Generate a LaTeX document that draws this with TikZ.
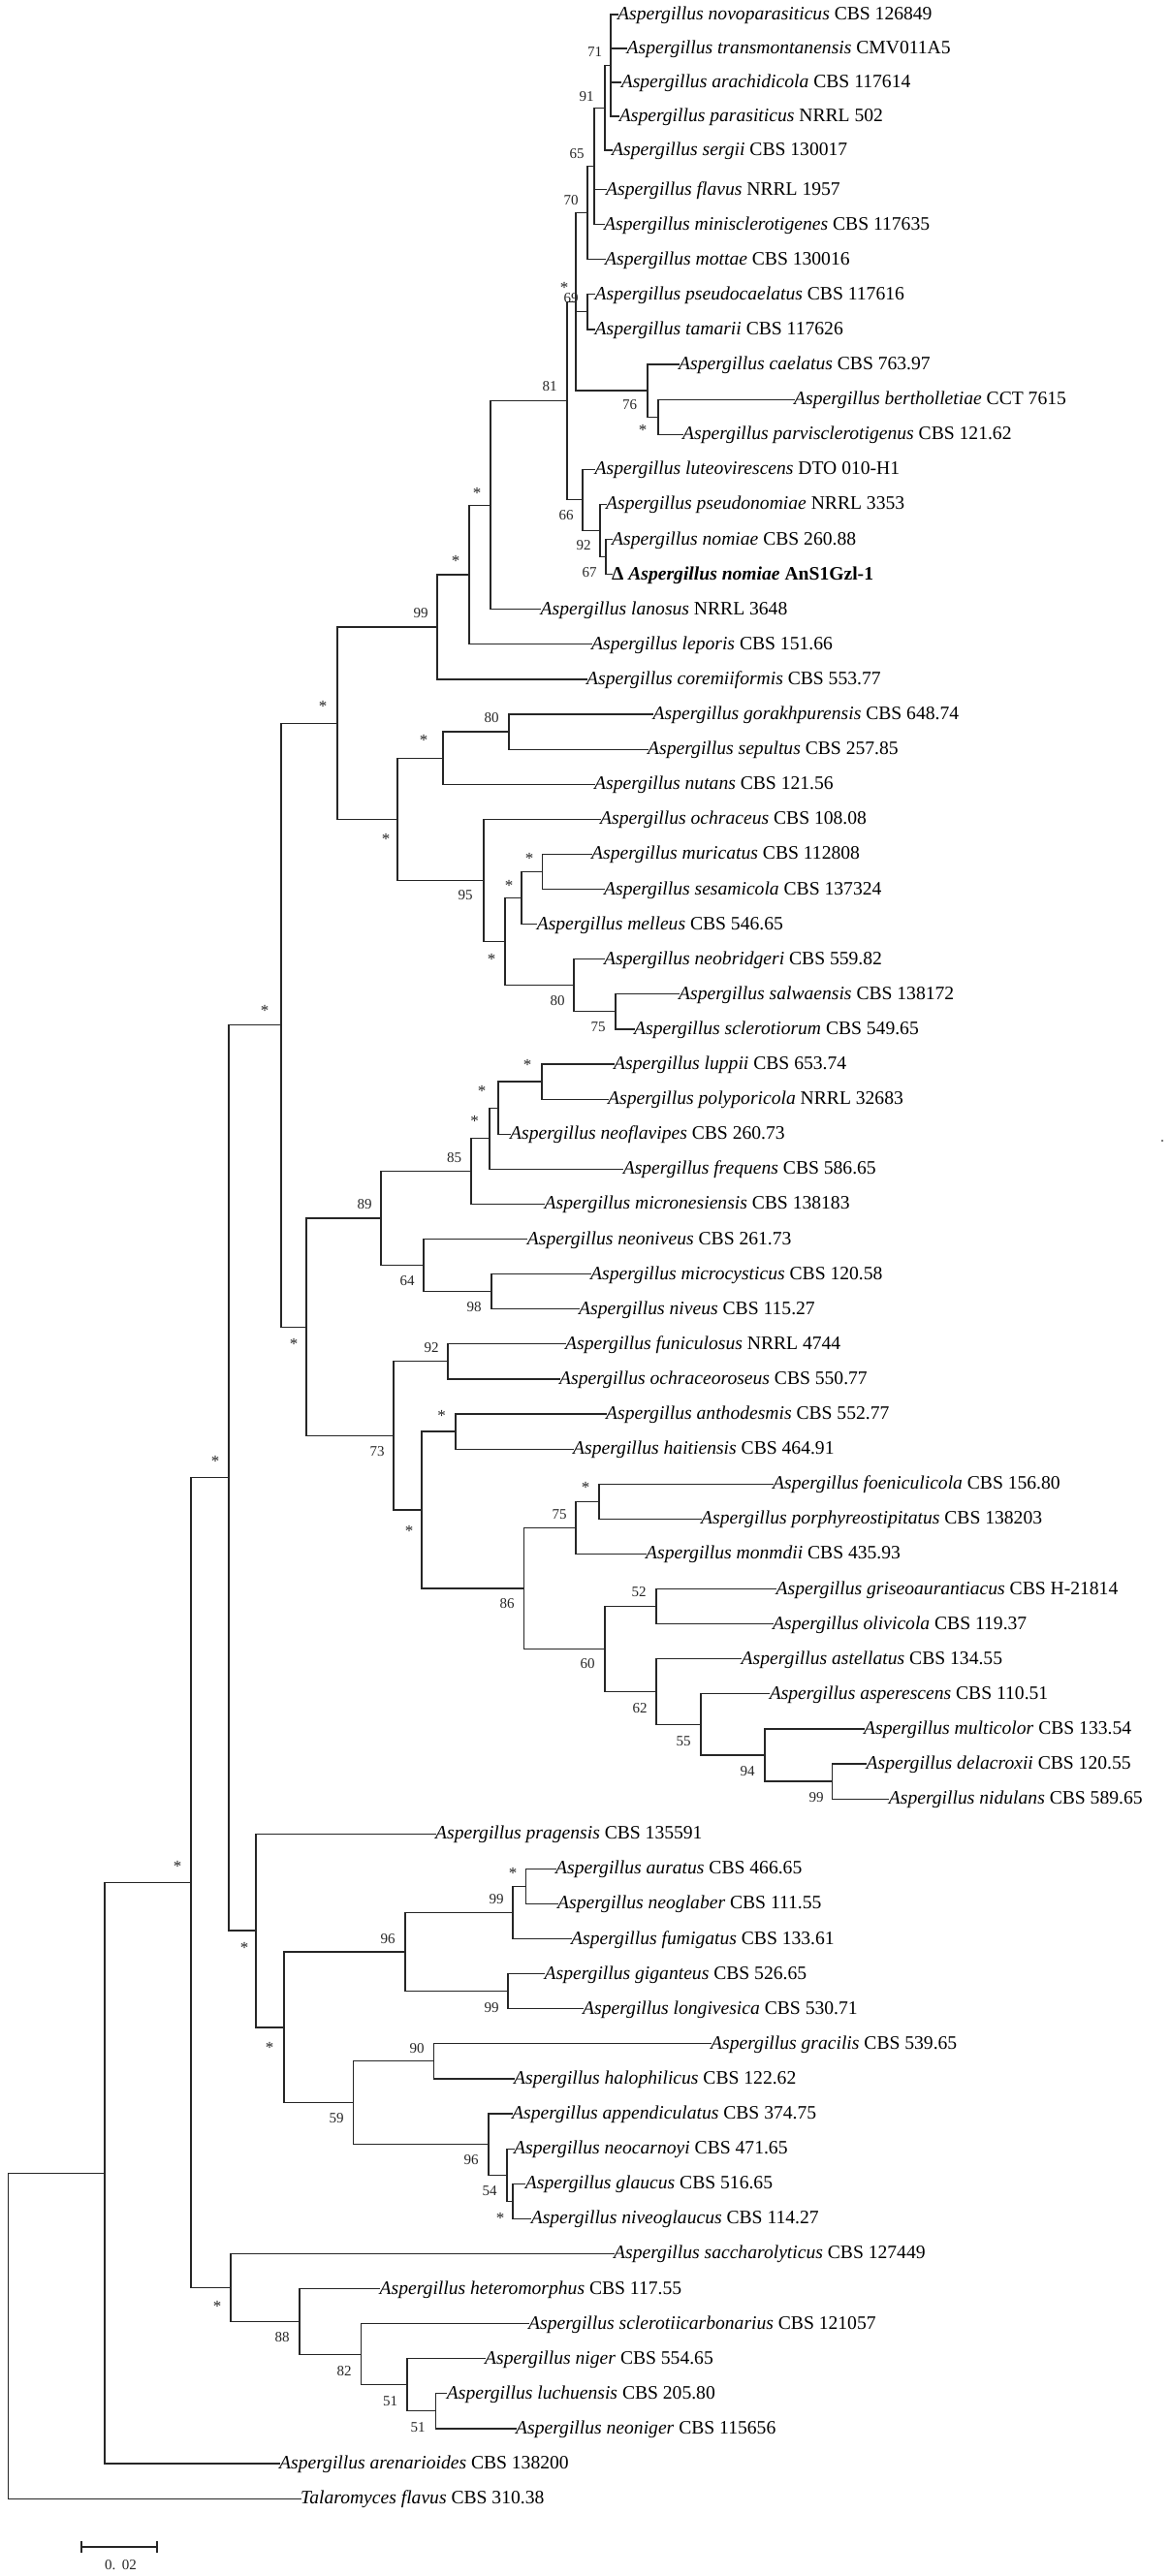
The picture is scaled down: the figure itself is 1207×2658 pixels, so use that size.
\documentclass[tikz,border=0pt]{standalone}
\usepackage{fontspec}
\setmainfont{Liberation Serif}
\usetikzlibrary{calc}
\newcommand\labfont{\fontsize{19.6bp}{22bp}\selectfont}
\newcommand\bsfont{\fontsize{15bp}{17bp}\selectfont}
\newcommand\Leaf[5]{\coordinate (t#1) at (#2,#3); \node[leaf] (n#1) at (t#1) {\textit{#4} #5};}
\newcommand\Inode[4]{\path ($(#3)!0.5!(#4)$) coordinate (m#1); \coordinate (#1) at (#2,0 |- m#1);}
\newcommand\Kids[2]{\foreach \kid in {#2}{\draw[br] (#1) |- (\kid);}}
\newcommand\BS[4]{\node[bs] (b#1) at (#2,#3) {#4};}
\newcommand\ST[3]{\node[bs,star] (b#1) at (#2,#3) {*};}
\begin{document}
\begin{tikzpicture}[x=1bp,y=-1bp,
  br/.style={line width=1.2bp, draw=black!85, line cap=rect},
  leaf/.style={anchor=base west, inner sep=0pt, yshift=-5.5bp, font=\labfont},
  bs/.style={inner sep=0pt, font=\bsfont, text=black!85},
  star/.style={font=\fontsize{17bp}{18bp}\selectfont, yshift=-2bp}]
\useasboundingbox (0,0) rectangle (1207,2658);
% leaves
\Leaf{1}{637}{15}{Aspergillus novoparasiticus}{CBS 126849}
\Leaf{2}{646.5}{50}{Aspergillus transmontanensis}{CMV011A5}
\Leaf{3}{640.6}{85}{Aspergillus arachidicola}{CBS 117614}
\Leaf{4}{638.7}{120}{Aspergillus parasiticus}{NRRL 502}
\Leaf{5}{631}{155}{Aspergillus sergii}{CBS 130017}
\Leaf{6}{625}{195.5}{Aspergillus flavus}{NRRL 1957}
\Leaf{7}{623}{231.6}{Aspergillus minisclerotigenes}{CBS 117635}
\Leaf{8}{624}{267.7}{Aspergillus mottae}{CBS 130016}
\Leaf{9}{613.5}{303.8}{Aspergillus pseudocaelatus}{CBS 117616}
\Leaf{10}{613.5}{339.9}{Aspergillus tamarii}{CBS 117626}
\Leaf{11}{700}{376}{Aspergillus caelatus}{CBS 763.97}
\Leaf{12}{819}{412.1}{Aspergillus bertholletiae}{CCT 7615}
\Leaf{13}{704}{448.2}{Aspergillus parvisclerotigenus}{CBS 121.62}
\Leaf{14}{613.5}{484.3}{Aspergillus luteovirescens}{DTO 010-H1}
\Leaf{15}{625}{520.4}{Aspergillus pseudonomiae}{NRRL 3353}
\Leaf{16}{631}{556.5}{Aspergillus nomiae}{CBS 260.88}
\coordinate (t17) at (631,592.6);
\node[leaf] (n17) at (t17) {\bfseries Δ \textit{Aspergillus nomiae} AnS1Gzl-1};
\Leaf{18}{557.5}{628.7}{Aspergillus lanosus}{NRRL 3648}
\Leaf{19}{610}{664.8}{Aspergillus leporis}{CBS 151.66}
\Leaf{20}{605}{700.9}{Aspergillus coremiiformis}{CBS 553.77}
\Leaf{21}{673.5}{737}{Aspergillus gorakhpurensis}{CBS 648.74}
\Leaf{22}{668}{773.1}{Aspergillus sepultus}{CBS 257.85}
\Leaf{23}{613}{809.2}{Aspergillus nutans}{CBS 121.56}
\Leaf{24}{619}{845.3}{Aspergillus ochraceus}{CBS 108.08}
\Leaf{25}{610}{881.4}{Aspergillus muricatus}{CBS 112808}
\Leaf{26}{623}{917.5}{Aspergillus sesamicola}{CBS 137324}
\Leaf{27}{553.6}{953.6}{Aspergillus melleus}{CBS 546.65}
\Leaf{28}{623}{989.7}{Aspergillus neobridgeri}{CBS 559.82}
\Leaf{29}{700}{1025.8}{Aspergillus salwaensis}{CBS 138172}
\Leaf{30}{654}{1061.9}{Aspergillus sclerotiorum}{CBS 549.65}
\Leaf{31}{633}{1098}{Aspergillus luppii}{CBS 653.74}
\Leaf{32}{627}{1134.1}{Aspergillus polyporicola}{NRRL 32683}
\Leaf{33}{526}{1170.2}{Aspergillus neoflavipes}{CBS 260.73}
\Leaf{34}{642.6}{1206.3}{Aspergillus frequens}{CBS 586.65}
\Leaf{35}{561.5}{1242.4}{Aspergillus micronesiensis}{CBS 138183}
\Leaf{36}{543.7}{1278.5}{Aspergillus neoniveus}{CBS 261.73}
\Leaf{37}{609}{1314.6}{Aspergillus microcysticus}{CBS 120.58}
\Leaf{38}{597}{1350.7}{Aspergillus niveus}{CBS 115.27}
\Leaf{39}{583}{1386.8}{Aspergillus funiculosus}{NRRL 4744}
\Leaf{40}{577}{1422.9}{Aspergillus ochraceoroseus}{CBS 550.77}
\Leaf{41}{625}{1459}{Aspergillus anthodesmis}{CBS 552.77}
\Leaf{42}{591}{1495.1}{Aspergillus haitiensis}{CBS 464.91}
\Leaf{43}{797}{1531.2}{Aspergillus foeniculicola}{CBS 156.80}
\Leaf{44}{723}{1567.3}{Aspergillus porphyreostipitatus}{CBS 138203}
\Leaf{45}{666}{1603.4}{Aspergillus monmdii}{CBS 435.93}
\Leaf{46}{800.5}{1639.5}{Aspergillus griseoaurantiacus}{CBS H-21814}
\Leaf{47}{797}{1675.6}{Aspergillus olivicola}{CBS 119.37}
\Leaf{48}{764.5}{1711.7}{Aspergillus astellatus}{CBS 134.55}
\Leaf{49}{793.6}{1747.8}{Aspergillus asperescens}{CBS 110.51}
\Leaf{50}{891}{1783.9}{Aspergillus multicolor}{CBS 133.54}
\Leaf{51}{893.5}{1820}{Aspergillus delacroxii}{CBS 120.55}
\Leaf{52}{916.7}{1856.1}{Aspergillus nidulans}{CBS 589.65}
\Leaf{53}{449}{1892.2}{Aspergillus pragensis}{CBS 135591}
\Leaf{54}{573}{1928.3}{Aspergillus auratus}{CBS 466.65}
\Leaf{55}{575}{1964.4}{Aspergillus neoglaber}{CBS 111.55}
\Leaf{56}{589}{2000.5}{Aspergillus fumigatus}{CBS 133.61}
\Leaf{57}{561.5}{2036.6}{Aspergillus giganteus}{CBS 526.65}
\Leaf{58}{601}{2072.7}{Aspergillus longivesica}{CBS 530.71}
\Leaf{59}{733}{2108.8}{Aspergillus gracilis}{CBS 539.65}
\Leaf{60}{530}{2144.9}{Aspergillus halophilicus}{CBS 122.62}
\Leaf{61}{528}{2181}{Aspergillus appendiculatus}{CBS 374.75}
\Leaf{62}{530}{2217.1}{Aspergillus neocarnoyi}{CBS 471.65}
\Leaf{63}{541.7}{2253.2}{Aspergillus glaucus}{CBS 516.65}
\Leaf{64}{547.6}{2289.3}{Aspergillus niveoglaucus}{CBS 114.27}
\Leaf{65}{633}{2325.4}{Aspergillus saccharolyticus}{CBS 127449}
\Leaf{66}{391.5}{2361.5}{Aspergillus heteromorphus}{CBS 117.55}
\Leaf{67}{545}{2397.6}{Aspergillus sclerotiicarbonarius}{CBS 121057}
\Leaf{68}{500}{2433.7}{Aspergillus niger}{CBS 554.65}
\Leaf{69}{460.7}{2469.8}{Aspergillus luchuensis}{CBS 205.80}
\Leaf{70}{532}{2505.9}{Aspergillus neoniger}{CBS 115656}
\Leaf{71}{288}{2542}{Aspergillus arenarioides}{CBS 138200}
\Leaf{72}{310}{2578.1}{Talaromyces flavus}{CBS 310.38}
% internal nodes
\Inode{T}{630}{t1}{t4}
\Inode{S}{624}{T}{t5}
\Inode{R}{613}{S}{t7}
\Inode{O}{606}{R}{t8}
\Inode{PT}{606}{t9}{t10}
\Inode{Q}{679}{t12}{t13}
\Inode{P}{668}{t11}{Q}
\Inode{M}{594}{O}{P}
\Inode{V}{625}{t16}{t17}
\Inode{U}{619}{t15}{V}
\Inode{N}{601}{t14}{U}
\Inode{L}{585}{M}{N}
\Inode{K}{506}{L}{t18}
\Inode{J}{484}{K}{t19}
\Inode{H}{451}{J}{t20}
\Inode{Y}{525}{t21}{t22}
\Inode{W}{457}{Y}{t23}
\Inode{AC}{559.5}{t25}{t26}
\Inode{AA}{538}{AC}{t27}
\Inode{AD}{635}{t29}{t30}
\Inode{AB}{592}{t28}{AD}
\Inode{Z}{521}{AA}{AB}
\Inode{X}{499}{t24}{Z}
\Inode{I}{410}{W}{X}
\Inode{F}{348}{H}{I}
\Inode{AK}{559}{t31}{t32}
\Inode{AJ}{514}{AK}{t33}
\Inode{AI}{505}{AJ}{t34}
\Inode{AG}{486}{AI}{t35}
\Inode{AL}{507}{t37}{t38}
\Inode{AH}{437}{t36}{AL}
\Inode{AE}{393}{AG}{AH}
\Inode{AM}{462}{t39}{t40}
\Inode{AO}{470}{t41}{t42}
\Inode{AS}{618}{t43}{t44}
\Inode{AQ}{594}{AS}{t45}
\Inode{AT}{677}{t46}{t47}
\Inode{AX}{858.6}{t51}{t52}
\Inode{AW}{789}{t50}{AX}
\Inode{AV}{723}{t49}{AW}
\Inode{AU}{677}{t48}{AV}
\Inode{AR}{624}{AT}{AU}
\Inode{AP}{540.5}{AQ}{AR}
\Inode{AN}{435}{AO}{AP}
\Inode{AF}{406}{AM}{AN}
\Inode{G}{316}{AE}{AF}
\Inode{D}{290}{F}{G}
\Inode{BD}{542.5}{t54}{t55}
\Inode{BB}{529}{BD}{t56}
\Inode{BC}{524}{t57}{t58}
\Inode{AZ}{418}{BB}{BC}
\Inode{BE}{447.6}{t59}{t60}
\Inode{BH}{529}{t63}{t64}
\Inode{BG}{523}{t62}{BH}
\Inode{BF}{504}{t61}{BG}
\Inode{BA}{364.6}{BE}{BF}
\Inode{AY}{293}{AZ}{BA}
\Inode{E}{264}{t53}{AY}
\Inode{C}{236}{D}{E}
\Inode{BM}{449.6}{t69}{t70}
\Inode{BL}{420}{t68}{BM}
\Inode{BK}{372.5}{t67}{BL}
\Inode{BJ}{309}{t66}{BK}
\Inode{BI}{238}{t65}{BJ}
\Inode{B}{197}{C}{BI}
\Inode{A}{108}{B}{t71}
\Inode{root}{8.7}{A}{t72}
% branches
\Kids{T}{t1,t2,t3,t4}
\Kids{S}{T,t5}
\Kids{R}{S,t6,t7}
\Kids{O}{R,t8}
\Kids{PT}{t9,t10}
\Kids{Q}{t12,t13}
\Kids{P}{t11,Q}
\Kids{M}{O,PT,P}
\Kids{V}{t16,t17}
\Kids{U}{t15,V}
\Kids{N}{t14,U}
\Kids{L}{M,N}
\Kids{K}{L,t18}
\Kids{J}{K,t19}
\Kids{H}{J,t20}
\Kids{Y}{t21,t22}
\Kids{W}{Y,t23}
\Kids{AC}{t25,t26}
\Kids{AA}{AC,t27}
\Kids{AD}{t29,t30}
\Kids{AB}{t28,AD}
\Kids{Z}{AA,AB}
\Kids{X}{t24,Z}
\Kids{I}{W,X}
\Kids{F}{H,I}
\Kids{AK}{t31,t32}
\Kids{AJ}{AK,t33}
\Kids{AI}{AJ,t34}
\Kids{AG}{AI,t35}
\Kids{AL}{t37,t38}
\Kids{AH}{t36,AL}
\Kids{AE}{AG,AH}
\Kids{AM}{t39,t40}
\Kids{AO}{t41,t42}
\Kids{AS}{t43,t44}
\Kids{AQ}{AS,t45}
\Kids{AT}{t46,t47}
\Kids{AX}{t51,t52}
\Kids{AW}{t50,AX}
\Kids{AV}{t49,AW}
\Kids{AU}{t48,AV}
\Kids{AR}{AT,AU}
\Kids{AP}{AQ,AR}
\Kids{AN}{AO,AP}
\Kids{AF}{AM,AN}
\Kids{G}{AE,AF}
\Kids{D}{F,G}
\Kids{BD}{t54,t55}
\Kids{BB}{BD,t56}
\Kids{BC}{t57,t58}
\Kids{AZ}{BB,BC}
\Kids{BE}{t59,t60}
\Kids{BH}{t63,t64}
\Kids{BG}{t62,BH}
\Kids{BF}{t61,BG}
\Kids{BA}{BE,BF}
\Kids{AY}{AZ,BA}
\Kids{E}{t53,AY}
\Kids{C}{D,E}
\Kids{BM}{t69,t70}
\Kids{BL}{t68,BM}
\Kids{BK}{t67,BL}
\Kids{BJ}{t66,BK}
\Kids{BI}{t65,BJ}
\Kids{B}{C,BI}
\Kids{A}{B,t71}
\Kids{root}{A,t72}
% support values
\ST{s1}{582}{295}
\BS{s2}{589}{308}{69}
\BS{s3}{613.5}{54}{71}
\BS{s4}{605}{100}{91}
\BS{s5}{595}{159}{65}
\BS{s6}{589}{207}{70}
\BS{s7}{567}{399}{81}
\BS{s8}{649.5}{418}{76}
\ST{s9}{663}{442}
\BS{s10}{584}{532}{66}
\BS{s11}{602}{563}{92}
\BS{s12}{608}{591}{67}
\ST{s13}{492}{507}
\ST{s14}{470}{577}
\BS{s15}{434}{633}{99}
\ST{s16}{333}{727}
\BS{s17}{507}{741}{80}
\ST{s18}{437}{762}
\ST{s19}{398}{864}
\ST{s20}{546}{884}
\ST{s21}{525}{912}
\BS{s22}{480}{924}{95}
\ST{s23}{507}{988}
\BS{s24}{575}{1033}{80}
\ST{s25}{273}{1041}
\BS{s26}{617}{1060}{75}
\ST{s27}{544}{1097}
\ST{s28}{497}{1124}
\ST{s29}{489.5}{1155}
\BS{s30}{468.5}{1195}{85}
\BS{s31}{376}{1243}{89}
\BS{s32}{420}{1322}{64}
\BS{s33}{489}{1349}{98}
\ST{s34}{303}{1385}
\BS{s35}{445}{1391}{92}
\ST{s36}{455.5}{1459}
\BS{s37}{389}{1498}{73}
\ST{s38}{222}{1506}
\ST{s39}{604}{1533}
\BS{s40}{577}{1563}{75}
\ST{s41}{422}{1578}
\BS{s42}{659}{1643}{52}
\BS{s43}{523}{1655}{86}
\BS{s44}{606}{1717}{60}
\BS{s45}{660}{1763}{62}
\BS{s46}{705}{1797}{55}
\BS{s47}{771}{1828}{94}
\BS{s48}{842}{1855}{99}
\ST{s49}{183}{1924}
\ST{s50}{529}{1931}
\BS{s51}{512}{1960}{99}
\BS{s52}{400}{2001}{96}
\ST{s53}{252}{2008}
\BS{s54}{507}{2072}{99}
\ST{s55}{278}{2111}
\BS{s56}{430}{2114}{90}
\BS{s57}{347}{2186}{59}
\BS{s58}{486}{2229}{96}
\BS{s59}{505}{2261}{54}
\ST{s60}{516}{2287}
\ST{s61}{224}{2378}
\BS{s62}{291}{2412}{88}
\BS{s63}{355}{2447}{82}
\BS{s64}{402.5}{2478}{51}
\BS{s65}{431}{2505}{51}
% scale bar
\coordinate (sb1) at (84,2628);
\coordinate (sb2) at (162,2628);
\draw[br, line cap=butt] (sb1) -- (sb2);
\draw[br, line cap=butt] ([yshift=6bp]sb1) -- ([yshift=-6bp]sb1);
\draw[br, line cap=butt] ([yshift=6bp]sb2) -- ([yshift=-6bp]sb2);
\node[bs] (sblab) at (124.5,2647) {0.\hspace{0.45em}02};
% stray dot
\fill[black!70] (1199,1177) circle[radius=1.2bp];
\end{tikzpicture}
\end{document}
